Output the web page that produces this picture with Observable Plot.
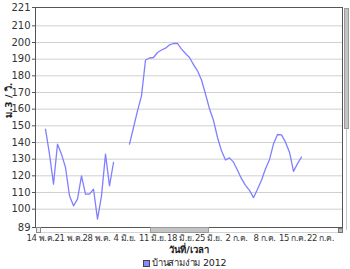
<!DOCTYPE html>
<html>
<head>
<meta charset="utf-8">
<script src="https://cdn.jsdelivr.net/npm/d3@7"></script>
<script src="https://cdn.jsdelivr.net/npm/@observablehq/plot@0.6"></script>
<style>
  html, body { margin: 0; padding: 0; background: #fff; }
  #wrap { position: relative; width: 350px; height: 269px; overflow: hidden; font-family: Tahoma, "DejaVu Sans", "Noto Sans", sans-serif; }
  #legend { position: absolute; left: 0; top: 256px; width: 350px; height: 13px; font-size: 9.5px; color: #222; }
  #legend .sw { position: absolute; left: 143px; top: 4px; width: 5px; height: 5px; background: #8a8aff; border: 1px solid #444; }
  #legend .lb { position: absolute; left: 152px; top: 0px; line-height: 13px; letter-spacing: -0.2px; }
  .deco { position: absolute; box-sizing: border-box; }
  g[aria-label="x-axis tick label"] { font-size: 8.5px; letter-spacing: -0.4px; }
</style>
</head>
<body>
<div id="wrap">
  <div id="chart"></div>
  <!-- horizontal scrollbar -->
  <div class="deco" style="left:36px; top:228px; width:306px; height:5px; border:1px solid #d4d4d4; border-top:none; background:#fff;"></div>
  <div class="deco" style="left:36px; top:227px; width:5px; height:6px; border:1px solid #888; background:#eee;"></div>
  <div class="deco" style="left:150px; top:227px; width:59px; height:6px; border:1px solid #9a9a9a; background:#c4c4c4;"></div>
  <div class="deco" style="left:338px; top:228px; width:5px; height:5px; border:1px solid #777; background:#bbb;"></div>
  <!-- vertical scrollbar -->
  <div class="deco" style="left:346px; top:8px; width:1px; height:222px; background:#c8c8c8;"></div>
  <div class="deco" style="left:344px; top:8px; width:5px; height:121px; border:1px solid #9a9a9a; background:#c4c4c4;"></div>
  <div id="legend"><span class="sw"></span><span class="lb">บ้านสามง่าม 2012</span></div>
</div>
<script>
// ---- data ----
const seriesName = "บ้านสามง่าม 2012";
const seg1Start = "2012-05-15T12:00Z";
const seg1Values = [148, 133, 115, 139, 133, 125, 108, 102, 106, 120, 109, 109, 112, 94, 108, 133, 114, 128];
const seg2Start = "2012-06-05T12:00Z";
const seg2Values = [139, 149, 159, 168, 189.5, 190.7, 191, 194, 195.5, 196.6, 198.6, 199.4, 199.4, 196,
  193.4, 191, 186.7, 183, 177.5, 169.1, 160.2, 153.2, 143, 135, 129.5, 130.8, 128.2, 123.3, 118.3,
  114.3, 111.3, 106.9, 111.9, 117.3, 124.3, 129.7, 139.2, 144.8, 144.6, 140.2, 134.2, 122.7, 127.3, 131.2];
const xTickDates = ["2012-05-14", "2012-05-21", "2012-05-28", "2012-06-04", "2012-06-11", "2012-06-18",
  "2012-06-25", "2012-07-02", "2012-07-09", "2012-07-16", "2012-07-23"];
const xTickLabels = ["14 พ.ค.", "21 พ.ค.", "28 พ.ค.", "4 มิ.ย.", "11 มิ.ย.", "18 มิ.ย.",
  "25 มิ.ย.", "2 ก.ค.", "8 ก.ค.", "15 ก.ค.", "22 ก.ค."];
const yTicks = [89, 100, 110, 120, 130, 140, 150, 160, 170, 180, 190, 200, 210, 221];
const yGrid = [100, 110, 120, 130, 140, 150, 160, 170, 180, 190, 200, 210];
const xDomain = ["2012-05-13T00:00Z", "2012-07-28T18:00Z"];
const yTitle = "ม.3 / วิ.";
const xTitle = "วันที่/เวลา";

// ---- build table ----
const rows = [];
seg1Values.forEach((v, i) => rows.push({seg: 1, date: d3.utcDay.offset(new Date(seg1Start), i), value: v}));
seg2Values.forEach((v, i) => rows.push({seg: 2, date: d3.utcDay.offset(new Date(seg2Start), i), value: v}));
const tickDates = xTickDates.map(s => new Date(s + "T00:00Z"));

const lineColor = "#8080ff";

const chart = Plot.plot({
  width: 350,
  height: 256,
  marginLeft: 35,
  marginRight: 8,
  marginTop: 7,
  marginBottom: 29,
  style: {fontFamily: 'Tahoma, "DejaVu Sans", "Noto Sans", sans-serif', fontSize: "10px", color: "#333", background: "transparent"},
  x: {type: "utc", domain: xDomain.map(s => new Date(s))},
  y: {domain: [89, 221]},
  marks: [
    Plot.ruleY(yGrid, {stroke: "#d0d0d0", strokeWidth: 1}),
    Plot.line(rows, {x: "date", y: "value", z: "seg", stroke: lineColor, strokeWidth: 1.3}),
    Plot.frame({stroke: "#555", strokeWidth: 1}),
    Plot.axisY({ticks: yTicks, tickSize: 3, tickPadding: 2, tickFormat: d => String(d), label: null, stroke: "#555"}),
    Plot.axisX({ticks: tickDates, tickSize: 5, tickPadding: 2, dx: 1, tickFormat: (d, i) => xTickLabels[i], label: null, stroke: "#555"}),
    Plot.text([xTitle], {text: d => d, frameAnchor: "bottom", dy: 25, fontSize: 9.5, fontWeight: "bold", fill: "#222"}),
    Plot.text([yTitle], {text: d => d, frameAnchor: "left", rotate: -90, dx: -27, fontSize: 9.5, fontWeight: "bold", fill: "#222"})
  ]
});
document.getElementById("chart").appendChild(chart);
</script>
</body>
</html>
